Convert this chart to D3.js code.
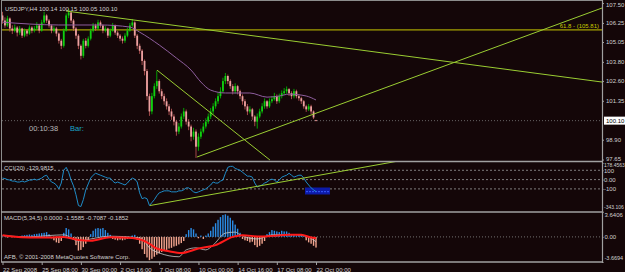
<!DOCTYPE html>
<html>
<head>
<meta charset="utf-8">
<script src="https://cdn.jsdelivr.net/npm/d3@7"></script>
<style>
  body { margin: 0; background: #140608; }
  svg text { font-family: "Liberation Sans", Arial, sans-serif; font-size: 6px; }
</style>
</head>
<body>
<svg id="chart" width="625" height="272"></svg>
<script>

// --- data ---
var opens = [106.72,
	106.40,106.09,106.53,105.90,105.77,105.96,
	105.64,105.90,105.45,105.77,105.58,105.96,105.77,
	105.90,106.09,105.77,106.28,106.72,106.40,
	106.09,105.77,105.90,105.58,105.13,104.81,
	105.77,106.72,106.91,106.40,
	105.90,105.45,104.81,104.18,105.13,
	104.81,105.26,105.77,106.09,105.90,106.28,106.09,
	105.77,105.90,105.45,105.77,106.09,105.64,105.45,
	105.26,105.13,105.45,105.77,106.09,106.28,105.45,104.81,
	104.50,103.86,103.22,101.64,100.68,
	101.64,102.27,102.59,101.95,101.64,101.32,
	101.00,100.68,100.36,100.04,99.41,99.73,
	100.36,100.68,100.04,99.73,99.09,99.41,
	98.46,99.09,99.41,99.73,100.04,100.36,
	100.68,101.00,101.32,101.64,101.95,102.59,
	102.91,102.59,102.27,101.95,102.27,101.95,
	101.64,101.32,101.00,100.68,100.81,100.36,
	100.04,100.36,100.68,101.00,101.32,101.00,
	101.32,101.45,101.64,101.32,101.64,101.83,
	101.95,102.08,101.83,101.64,101.95,101.64,
	101.51,101.32,101.00,100.81,101.00,100.68,100.14];

var highs = [106.95,106.60,106.70,106.60,106.10,106.15,
	106.05,106.05,105.95,105.90,105.85,106.10,106.05,
	106.05,106.30,106.20,106.45,106.95,106.80,
	106.50,106.15,106.05,106.00,105.65,105.25,
	105.90,106.85,107.15,107.00,
	106.50,106.00,105.55,104.90,105.25,
	105.30,105.40,105.90,106.25,106.20,106.45,106.40,
	106.15,106.05,105.95,105.90,106.25,106.15,105.75,
	105.55,105.40,105.60,105.95,106.25,106.50,106.35,105.55,
	104.95,104.60,103.95,103.35,101.80,
	101.85,102.45,103.25,102.70,102.10,101.80,
	101.50,101.15,100.85,100.50,100.15,99.95,
	100.55,100.90,100.80,100.20,99.85,99.65,
	99.55,99.30,99.60,99.95,100.25,100.55,
	100.90,101.20,101.50,101.85,102.20,102.80,
	103.10,103.00,102.70,102.40,102.45,102.35,
	102.05,101.75,101.45,101.15,101.00,100.90,
	100.45,100.55,100.85,101.20,101.50,101.40,
	101.50,101.65,101.85,101.75,101.80,102.00,
	102.15,102.25,102.15,101.95,102.10,102.05,
	101.75,101.60,101.40,101.10,101.15,101.10,100.75,100.15];

var lows = [106.20,105.95,106.00,105.70,105.55,105.65,
	105.40,105.50,105.30,105.35,105.40,105.50,105.60,
	105.65,105.80,105.60,105.70,106.20,106.25,
	105.95,105.60,105.65,105.40,104.95,104.60,
	104.70,105.70,106.55,106.25,
	105.75,105.25,104.60,103.95,104.05,
	104.65,104.70,105.15,105.65,105.75,105.80,105.95,
	105.60,105.65,105.30,105.35,105.70,105.50,105.30,
	105.10,104.95,105.00,105.35,105.70,106.00,105.30,104.60,
	104.30,103.60,102.95,101.40,100.40,
	100.50,101.50,102.10,101.80,101.45,101.10,
	100.80,100.45,100.15,99.80,99.15,99.25,
	99.60,100.20,99.85,99.50,98.80,98.90,
	97.75,98.20,98.95,99.30,99.60,99.90,
	100.20,100.50,100.85,101.15,101.50,101.85,
	102.40,102.40,102.10,101.75,101.80,101.75,
	101.45,101.10,100.80,100.45,100.55,100.15,
	99.75,99.60,100.25,100.55,100.85,100.85,
	100.90,101.20,101.35,101.15,101.20,101.50,
	101.70,101.80,101.65,101.45,101.50,101.50,
	101.35,101.15,100.85,100.65,100.70,100.50,100.20,100.05];

var closes = [106.40,106.09,106.53,105.90,105.77,105.96,
	105.64,105.90,105.45,105.77,105.58,105.96,105.77,
	105.90,106.09,105.77,106.28,106.72,106.40,
	106.09,105.77,105.90,105.58,105.13,104.81,
	105.77,106.72,106.91,106.40,
	105.90,105.45,104.81,104.18,105.13,
	104.81,105.26,105.77,106.09,105.90,106.28,106.09,
	105.77,105.90,105.45,105.77,106.09,105.64,105.45,
	105.26,105.13,105.45,105.77,106.09,106.28,105.45,104.81,
	104.50,103.86,103.22,101.64,100.68,
	101.64,102.27,102.59,101.95,101.64,101.32,
	101.00,100.68,100.36,100.04,99.41,99.73,
	100.36,100.68,100.04,99.73,99.09,99.41,
	98.46,99.09,99.41,99.73,100.04,100.36,
	100.68,101.00,101.32,101.64,101.95,102.59,
	102.91,102.59,102.27,101.95,102.27,101.95,
	101.64,101.32,101.00,100.68,100.81,100.36,
	100.04,100.36,100.68,101.00,101.32,101.00,
	101.32,101.45,101.64,101.32,101.64,101.83,
	101.95,102.08,101.83,101.64,101.95,101.64,
	101.51,101.32,101.00,100.81,101.00,100.68,100.30,100.10];

// moving average (purple), read at a few bars
var maBars   = [0, 11, 23, 40, 52, 56, 64, 71, 77, 81, 85, 91, 101, 108, 113, 117, 124, 128];
var maValues = [106.30, 106.18, 106.12, 106.12, 105.99, 105.67, 104.86, 104.04, 103.28, 102.53, 102.02, 101.84, 101.84, 101.58, 101.65, 101.77, 101.65, 101.40];

var cciValues = [16,11,0,-5,-16,-16,-26,-26,-16,-26,-16,-5,-5,5,-5,5,16,37,47,5,
	-26,-37,-58,-100,-37,100,132,79,-5,-68,-163,-279,-290,-216,-110,-47,16,47,68,58,
	47,37,26,16,16,-16,-37,-26,-37,-47,-58,-37,-5,16,5,-26,-142,-205,-195,-205,
	-279,-247,-216,-174,-142,-132,-121,-121,-121,-132,-132,-132,-121,-121,-110,-89,-89,-110,-132,-142,
	-132,-121,-110,-100,-79,-58,-26,-37,-37,-16,-5,68,132,142,142,121,110,100,79,58,
	37,37,26,-37,-79,-68,-58,-37,-26,-5,5,-5,-26,-5,26,37,47,68,47,26,
	37,47,47,16,-26,-58,-89,-110,-129.98];

var macdHist = [0.05,0.1,-0.1,0.05,-0.05,0.1,0.15,0.1,
	0.2,0.25,0.3,0.35,0.3,0.4,0.45,0.5,0.55,0.6,0.7,0.4,
	-0.2,-0.5,-0.8,-0.9,-0.6,
	0.6,1.3,1.1,0.5,
	-0.4,-1.2,-2.0,-1.9,-1.5,-1.0,-0.5,
	0.4,0.9,1.2,1.3,1.2,1.3,1.0,0.6,0.3,
	-0.3,-0.4,-0.5,-0.4,-0.5,-0.4,-0.3,-0.2,0.2,
	0.3,-0.4,
	-1.0,-1.8,-2.5,-3.0,-3.4,-3.2,-2.9,
	-2.6,-2.4,-2.2,-2.0,-1.9,-1.7,-1.6,-1.4,-1.3,-1.1,-0.9,-0.6,
	0.4,1.0,1.3,1.1,0.5,
	-0.2,0.2,-0.3,0.2,0.5,
	0.9,1.5,2.0,2.5,2.9,3.2,3.3,3.1,2.8,2.4,1.8,1.2,
	0.6,-0.3,-0.5,-0.6,-0.8,-0.7,-1.2,
	-1.5,-1.3,-1.0,-0.6,
	0.4,0.7,1.0,0.9,0.8,0.7,0.9,0.8,0.8,0.6,
	0.4,0.3,0.2,0.3,0.2,0.1,
	-0.5,-0.8,-1.0,-1.3,-1.5585];

var signalBars   = [0, 4, 11, 19, 25, 31, 36, 44, 53, 57, 60, 63, 68, 73, 80, 87, 94, 98, 105, 110, 117, 122, 126, 128];
var signalValues = [0.25, 0.05, -0.1, -0.1, 0.0, -0.45, -0.55, -0.05, -0.15, -0.45, -1.0, -1.7, -2.1, -2.35, -1.7, -1.2, 0.0, 0.25, 0.05, 0.15, 0.3, 0.3, -0.1, -0.19];

var mainBars   = [0, 11, 19, 25, 31, 36, 44, 55, 57, 60, 64, 72, 75, 79, 83, 86, 91, 95, 97, 104, 110, 118, 124, 128];
var mainValues = [0.2, 0.0, 0.2, 0.3, -0.6, -0.3, 0.1, -0.1, -0.3, -1.6, -2.35, -2.9, -1.9, -1.6, -1.9, -1.2, 0.55, 0.7, 0.3, -0.3, 0.3, 0.35, 0.1, -0.71];

var timeBars   = [0, 16, 32, 48, 64, 80, 96, 112, 128];
var timeLabels = ["22 Sep 2008", "25 Sep 08:00", "30 Sep 00:00", "2 Oct 16:00", "7 Oct 08:00",
	"10 Oct 00:00", "14 Oct 16:00", "17 Oct 08:00", "22 Oct 00:00"];

var priceTicks = [107.50, 106.25, 105.05, 103.80, 102.60, 101.35, 98.90, 97.65];
var currentPrice = 100.10;
var cciTicks = [178.4563, 100, 0, -100, -343.106];
var cciTickLabels = ["178.4563", "100", "0.00", "-100", "-343.106"];
var macdTicks = [3.6406, 0, -3.6694];
var macdTickLabels = ["3.6406", "0.00", "-3.6694"];

var fibLevel = 105.81, fibText = "61.8 - (105.81)";

// trend lines as [bar, price] pairs
var priceLines = [
	[[25.9, 107.00], [244.8, 102.53]],
	[[79.4, 97.81], [244.8, 107.19]],
	[[63.1, 103.28], [109.2, 97.62]]
];
var cciLine = [[60.2, -279], [160.7, 195]];

// --- layout ---
var W = 625, H = 272, axisX = 602;
var mainTop = 1, mainBottom = 161, cciTop = 163, cciBottom = 211.5, macdTop = 212, macdBottom = 262;

var svg = d3.select("#chart");
svg.append("rect").attr("width", W).attr("height", H).attr("fill", "#140608");

var x = d3.scaleLinear().domain([0, 128]).range([2.5, 316]);
var y = d3.scaleLinear().domain([97.56, 107.63]).range([mainBottom, mainTop]);
var yCci = d3.scaleLinear().domain([-343.106, 178.4563]).range([cciBottom, cciTop]);
var yMacd = d3.scaleLinear().domain([-3.6694, 3.6406]).range([macdBottom, macdTop]);

var defs = svg.append("defs");
defs.append("clipPath").attr("id", "clipMain").append("rect")
	.attr("x", 2).attr("y", mainTop).attr("width", axisX - 2).attr("height", mainBottom - mainTop);
defs.append("clipPath").attr("id", "clipSub").append("rect")
	.attr("x", 2).attr("y", mainBottom).attr("width", axisX - 2).attr("height", macdBottom - mainBottom);

var gray = "#8c8c8c", txt = "#d0d0d0", trend = "#9acd32";

// --- main panel ---
var main = svg.append("g").attr("clip-path", "url(#clipMain)");

// current price line
main.append("line")
	.attr("x1", 2).attr("x2", axisX).attr("y1", y(currentPrice)).attr("y2", y(currentPrice))
	.attr("stroke", "#7a7a7a").attr("stroke-dasharray", "1,2").attr("stroke-width", 0.8);

// fibo level
main.append("line")
	.attr("x1", 2).attr("x2", axisX).attr("y1", y(fibLevel)).attr("y2", y(fibLevel))
	.attr("stroke", "#c8c800").attr("stroke-width", 1);

// candles
var idx = d3.range(closes.length);
main.selectAll(".wick").data(idx).enter().append("line")
	.attr("x1", function(i) { return x(i); })
	.attr("x2", function(i) { return x(i); })
	.attr("y1", function(i) { return y(highs[i]); })
	.attr("y2", function(i) { return y(lows[i]); })
	.attr("stroke", function(i) { return closes[i] >= opens[i] ? "#00c800" : "#c85a5a"; })
	.attr("stroke-width", 0.8);

main.selectAll(".body").data(idx).enter().append("rect")
	.attr("x", function(i) { return x(i) - 0.9; })
	.attr("width", 1.8)
	.attr("y", function(i) { return y(Math.max(opens[i], closes[i])); })
	.attr("height", function(i) { return Math.max(0.8, Math.abs(y(opens[i]) - y(closes[i]))); })
	.attr("fill", function(i) { return closes[i] >= opens[i] ? "#10d010" : "#eca0a0"; });

// moving average
main.append("path")
	.datum(d3.range(maBars.length))
	.attr("fill", "none").attr("stroke", "#8e5e9e").attr("stroke-width", 1)
	.attr("d", d3.line()
		.curve(d3.curveMonotoneX)
		.x(function(k) { return x(maBars[k]); })
		.y(function(k) { return y(maValues[k]); }));

// trend lines
priceLines.forEach(function(seg) {
	main.append("line")
		.attr("x1", x(seg[0][0])).attr("y1", y(seg[0][1]))
		.attr("x2", x(seg[1][0])).attr("y2", y(seg[1][1]))
		.attr("stroke", trend).attr("stroke-width", 1);
});

main.append("text").attr("x", 599).attr("y", y(fibLevel) - 2)
	.attr("text-anchor", "end").attr("fill", "#c8c800").text(fibText);

svg.append("text").attr("x", 5).attr("y", 11).attr("fill", txt)
	.text("USDJPY,H4  100.14 100.15 100.05 100.10");
svg.append("text").attr("x", 29).attr("y", 131).attr("fill", "#b8b8b8")
	.style("font-size", "7.5px").text("00:10:38");
svg.append("text").attr("x", 70).attr("y", 131).attr("fill", "#1aa8c8")
	.style("font-size", "7.5px").text("Bar:");

// --- CCI panel ---
var sub = svg.append("g").attr("clip-path", "url(#clipSub)");

[100, 0, -100].forEach(function(v) {
	sub.append("line")
		.attr("x1", 2).attr("x2", axisX).attr("y1", yCci(v)).attr("y2", yCci(v))
		.attr("stroke", "#9a9a9a").attr("stroke-dasharray", "2,2").attr("stroke-width", 0.8);
});

// selected end of the CCI
sub.append("rect").attr("x", 305).attr("y", yCci(-85)).attr("width", 25).attr("height", 7)
	.attr("fill", "#0c1aa8");
sub.append("line").attr("x1", 306).attr("x2", 330).attr("y1", yCci(-130)).attr("y2", yCci(-130))
	.attr("stroke", "#3a5cff").attr("stroke-dasharray", "2,1");

sub.append("path")
	.datum(idx)
	.attr("fill", "none").attr("stroke", "#1e8cc8").attr("stroke-width", 1)
	.attr("d", d3.line()
		.x(function(i) { return x(i); })
		.y(function(i) { return yCci(cciValues[i]); }));

sub.append("line")
	.attr("x1", x(cciLine[0][0])).attr("y1", yCci(cciLine[0][1]))
	.attr("x2", x(cciLine[1][0])).attr("y2", yCci(cciLine[1][1]))
	.attr("stroke", trend).attr("stroke-width", 1);

svg.append("text").attr("x", 4).attr("y", 170).attr("fill", txt).text("CCI(20) -129.9815");

// --- MACD panel ---
sub.append("line")
	.attr("x1", 2).attr("x2", axisX).attr("y1", yMacd(0)).attr("y2", yMacd(0))
	.attr("stroke", "#8a8a8a").attr("stroke-dasharray", "1,2").attr("stroke-width", 0.8);

sub.selectAll(".hist").data(idx).enter().append("rect")
	.attr("x", function(i) { return x(i) - 0.7; })
	.attr("width", 1.4)
	.attr("y", function(i) { return Math.min(yMacd(0), yMacd(macdHist[i])); })
	.attr("height", function(i) { return Math.abs(yMacd(macdHist[i]) - yMacd(0)); })
	.attr("fill", function(i) { return macdHist[i] >= 0 ? "#2a8ce6" : "#f2a48e"; });

sub.append("path")
	.datum(d3.range(mainBars.length))
	.attr("fill", "none").attr("stroke", "#c8c8c8").attr("stroke-width", 0.8)
	.attr("d", d3.line()
		.curve(d3.curveMonotoneX)
		.x(function(k) { return x(mainBars[k]); })
		.y(function(k) { return yMacd(mainValues[k]); }));

sub.append("path")
	.datum(d3.range(signalBars.length))
	.attr("fill", "none").attr("stroke", "#ff1a1a").attr("stroke-width", 2)
	.attr("d", d3.line()
		.curve(d3.curveMonotoneX)
		.x(function(k) { return x(signalBars[k]); })
		.y(function(k) { return yMacd(signalValues[k]); }));

svg.append("text").attr("x", 4).attr("y", 220).attr("fill", txt)
	.text("MACD(5,34,5) 0.0000 -1.5585 -0.7087 -0.1852");
svg.append("text").attr("x", 4).attr("y", 259).attr("fill", txt)
	.text("AFB, \u00a9 2001-2008 MetaQuotes Software Corp.");

// --- frame and separators ---
svg.append("line").attr("x1", 1).attr("x2", axisX).attr("y1", 0.5).attr("y2", 0.5).attr("stroke", gray);
svg.append("line").attr("x1", 1.5).attr("x2", 1.5).attr("y1", 0).attr("y2", macdBottom).attr("stroke", gray);
[mainBottom + 0.5, macdTop, macdBottom].forEach(function(v) {
	svg.append("line").attr("x1", 1).attr("x2", axisX).attr("y1", v).attr("y2", v)
		.attr("stroke", "#a0a0a0").attr("stroke-width", 1.6);
});
svg.append("line").attr("x1", axisX + 0.5).attr("x2", axisX + 0.5).attr("y1", 0).attr("y2", macdBottom + 1)
	.attr("stroke", "#a0a0a0").attr("stroke-width", 1.2);

// --- axes ---
function styleAxis(g) {
	g.select(".domain").remove();
	g.selectAll(".tick line").attr("stroke", "#a0a0a0");
	g.selectAll(".tick text").attr("fill", txt).style("font-size", "6px")
		.style("font-family", "Liberation Sans, Arial, sans-serif");
}

// edge labels sit inside their panel; long ones get a smaller size to fit the margin
function fitLabels(shifts) {
	return function(g) {
		g.selectAll(".tick text").each(function(d, i) {
			var t = d3.select(this);
			if (shifts[i]) t.attr("y", shifts[i]);
			var n = t.text().length;
			if (n > 7) t.style("font-size", "5px");
			else if (n > 6) t.style("font-size", "5.5px");
		});
	};
}

svg.append("g").attr("transform", "translate(" + axisX + ",0)")
	.call(d3.axisRight(y).tickValues(priceTicks).tickSize(2).tickPadding(2).tickFormat(d3.format(".2f")))
	.call(styleAxis)
	.call(fitLabels({0: 1.5, 7: -1}));

// current price tag
svg.append("rect").attr("x", axisX + 2).attr("y", y(currentPrice) - 4).attr("width", 21).attr("height", 8)
	.attr("fill", "#ffffff");
svg.append("text").attr("x", axisX + 4).attr("y", y(currentPrice) + 2.2).attr("fill", "#000000")
	.text(d3.format(".2f")(currentPrice));

svg.append("g").attr("transform", "translate(" + axisX + ",0)")
	.call(d3.axisRight(yCci).tickValues(cciTicks).tickSize(1.5).tickPadding(0.5)
		.tickFormat(function(d, i) { return cciTickLabels[i]; }))
	.call(styleAxis)
	.call(fitLabels({0: 1.5, 4: -4.5}));

svg.append("g").attr("transform", "translate(" + axisX + ",0)")
	.call(d3.axisRight(yMacd).tickValues(macdTicks).tickSize(1.5).tickPadding(1)
		.tickFormat(function(d, i) { return macdTickLabels[i]; }))
	.call(styleAxis)
	.call(fitLabels({0: 3, 2: -4}));

var xAxis = svg.append("g").attr("transform", "translate(0," + macdBottom + ")")
	.call(d3.axisBottom(x).tickValues(timeBars).tickSize(3).tickPadding(3)
		.tickFormat(function(d, i) { return timeLabels[i]; }))
	.call(styleAxis);
xAxis.selectAll(".tick text").attr("text-anchor", "start").attr("dx", 0);
</script>
</body>
</html>
